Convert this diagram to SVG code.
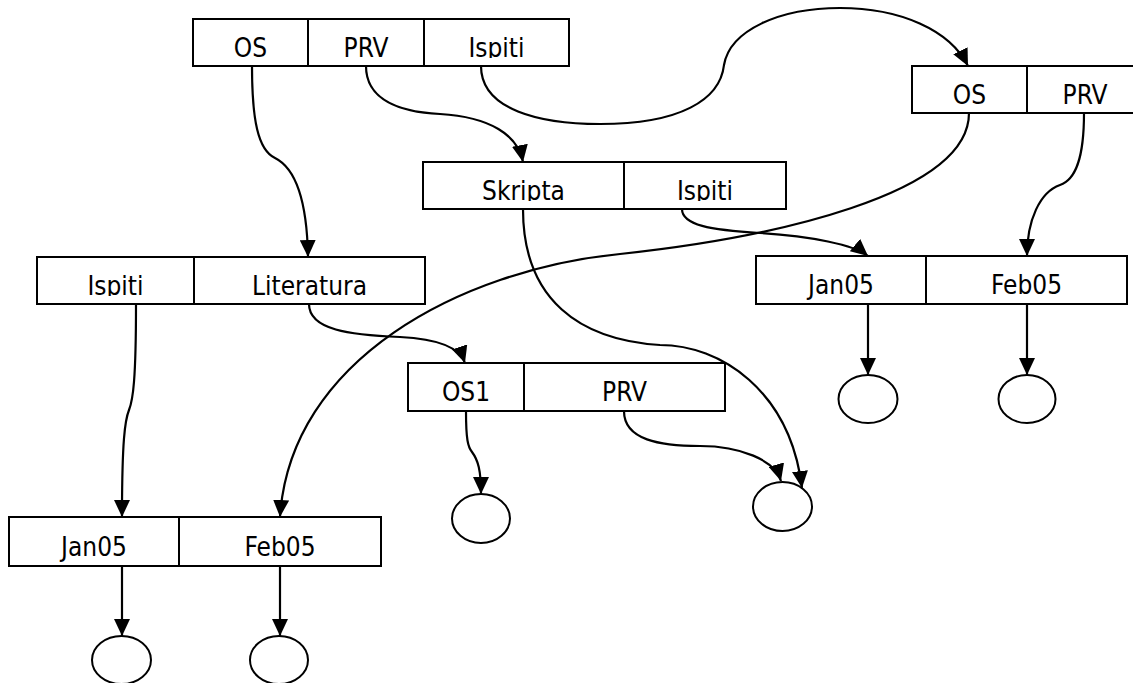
<svg xmlns="http://www.w3.org/2000/svg" width="1133" height="683" viewBox="0 0 1133 683">
<style>
.box{fill:#fff;stroke:#000;stroke-width:2}
.div{stroke:#000;stroke-width:2}
.lbl{font-family:"DejaVu Sans Condensed","DejaVu Sans",sans-serif;font-size:26px;fill:#000;text-anchor:middle}
.con{fill:none;stroke:#000;stroke-width:2.2;marker-end:url(#ah)}
.leaf{fill:#fff;stroke:#000;stroke-width:2}
</style>
<defs>
<marker id="ah" markerUnits="userSpaceOnUse" markerWidth="18" markerHeight="16" refX="17" refY="8" orient="auto" viewBox="0 0 18 16">
<path d="M0,0 L17,8 L0,16 z" fill="#000"/>
</marker>
<clipPath id="cA"><rect x="193" y="19" width="376" height="39"/></clipPath>
<clipPath id="cB"><rect x="912" y="66" width="231" height="39"/></clipPath>
<clipPath id="cC"><rect x="423" y="162" width="363" height="39"/></clipPath>
<clipPath id="cD"><rect x="37" y="257" width="388" height="39"/></clipPath>
</defs>
<rect width="1133" height="683" fill="#fff"/>

<g id="connectors">
<path class="con" d="M252,66 C252,120 258,150 275,158 C295,168 307,200 308,257"/>
<path class="con" d="M366,66 C366,100 400,112 440,114 C490,117 518,135 523,162"/>
<path class="con" d="M481,66 C481,110 540,124 600,124 C680,124 720,100 724,65 C730,30 780,8 840,8 C900,8 950,30 968,66"/>
<path class="con" d="M969,113 C969,195 770,238 620,254 C460,270 290,360 280,517"/>
<path class="con" d="M1084,113 C1084,160 1075,180 1060,185 C1040,192 1027,220 1027,256"/>
<path class="con" d="M682,209 C682,225 710,230 760,233 C810,236 855,245 868,256"/>
<path class="con" d="M523,209 C523,300 580,340 660,345 C720,345 790,390 802,488"/>
<path class="con" d="M136,304 C136,380 133,400 129,410 C125,420 122,440 122,517"/>
<path class="con" d="M309,304 C309,330 350,335 400,337 C440,339 460,348 465,363"/>
<path class="con" d="M466,411 C466,440 468,447 472,452 C478,460 481,470 481,494"/>
<path class="con" d="M624,411 C624,440 660,446 700,446 C740,446 775,460 781,481"/>
<path class="con" d="M868,304 L868,375"/>
<path class="con" d="M1027,304 L1027,375"/>
<path class="con" d="M122,566 L122,636"/>
<path class="con" d="M280,566 L280,636"/>
</g>

<g id="node-top">
<rect class="box" x="193" y="19" width="376" height="47"/>
<line class="div" x1="308" y1="19" x2="308" y2="66"/>
<line class="div" x1="424" y1="19" x2="424" y2="66"/>
<g clip-path="url(#cA)">
<text class="lbl" x="250.5" y="56.5">OS</text>
<text class="lbl" x="366" y="56.5">PRV</text>
<text class="lbl" x="496.5" y="56.5">Ispiti</text>
</g>
</g>

<g id="node-os-prv">
<rect class="box" x="912" y="66" width="231" height="47"/>
<line class="div" x1="1027" y1="66" x2="1027" y2="113"/>
<g clip-path="url(#cB)">
<text class="lbl" x="969.5" y="103.5">OS</text>
<text class="lbl" x="1085" y="103.5">PRV</text>
</g>
</g>

<g id="node-skripta">
<rect class="box" x="423" y="162" width="363" height="47"/>
<line class="div" x1="624" y1="162" x2="624" y2="209"/>
<g clip-path="url(#cC)">
<text class="lbl" x="523.5" y="199.5">Skripta</text>
<text class="lbl" x="705" y="199.5">Ispiti</text>
</g>
</g>

<g id="node-literatura">
<rect class="box" x="37" y="257" width="388" height="47"/>
<line class="div" x1="194" y1="257" x2="194" y2="304"/>
<g clip-path="url(#cD)">
<text class="lbl" x="115.5" y="294.5">Ispiti</text>
<text class="lbl" x="309.5" y="294.5">Literatura</text>
</g>
</g>

<g id="node-dates-right">
<rect class="box" x="756" y="256" width="371" height="48"/>
<line class="div" x1="926" y1="256" x2="926" y2="304"/>
<text class="lbl" x="841" y="294">Jan05</text>
<text class="lbl" x="1026.5" y="294">Feb05</text>
</g>

<g id="node-os1">
<rect class="box" x="408" y="363" width="317" height="48"/>
<line class="div" x1="524" y1="363" x2="524" y2="411"/>
<text class="lbl" x="466" y="401">OS1</text>
<text class="lbl" x="624.5" y="401">PRV</text>
</g>

<g id="node-dates-left">
<rect class="box" x="9" y="517" width="372" height="49"/>
<line class="div" x1="179" y1="517" x2="179" y2="566"/>
<text class="lbl" x="94" y="556">Jan05</text>
<text class="lbl" x="280" y="556">Feb05</text>
</g>

<g id="leaf-1"><ellipse class="leaf" cx="868" cy="399" rx="29.5" ry="24"/></g>
<g id="leaf-2"><ellipse class="leaf" cx="1027" cy="399" rx="28.5" ry="24"/></g>
<g id="leaf-3"><ellipse class="leaf" cx="481" cy="518.5" rx="29" ry="24.5"/></g>
<g id="leaf-4"><ellipse class="leaf" cx="782.5" cy="506.5" rx="29.5" ry="24.5"/></g>
<g id="leaf-5"><ellipse class="leaf" cx="121.5" cy="660" rx="29.5" ry="24"/></g>
<g id="leaf-6"><ellipse class="leaf" cx="279" cy="660" rx="29" ry="24"/></g>
</svg>
